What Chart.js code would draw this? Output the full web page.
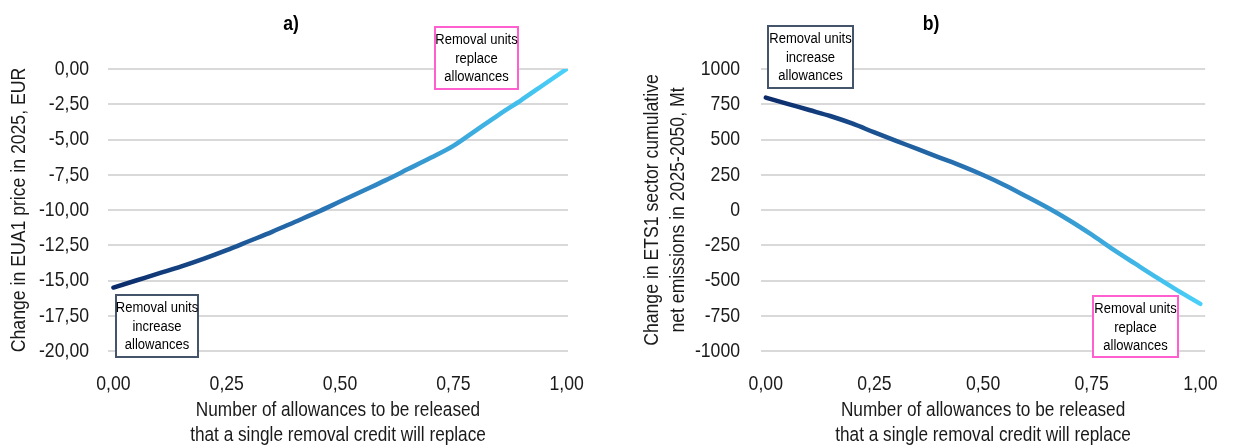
<!DOCTYPE html>
<html>
<head>
<meta charset="utf-8">
<script src="https://cdn.jsdelivr.net/npm/chart.js@4.4.1/dist/chart.umd.min.js"></script>
<style>
  html, body { margin: 0; padding: 0; background: #ffffff; }
  #wrap { position: relative; width: 1234px; height: 448px; overflow: hidden; }
  canvas { position: absolute; top: 0; }
</style>
</head>
<body>
<div id="wrap">
  <canvas id="panelA" width="617" height="448" style="left:0;width:617px;height:448px"></canvas>
  <canvas id="panelB" width="617" height="448" style="left:617px;width:617px;height:448px"></canvas>
</div>
<script>
// Share of allowances released per removal credit
const shares = [0, 0.05, 0.10, 0.15, 0.20, 0.25, 0.30, 0.35, 0.40, 0.45, 0.50,
                0.55, 0.60, 0.65, 0.70, 0.75, 0.80, 0.85, 0.90, 0.95, 1.00];

// a) change in EUA1 price in 2025, EUR
const priceChange = [-15.5, -15.0, -14.5, -14.0, -13.45, -12.85, -12.2, -11.55, -10.85, -10.15, -9.4,
                     -8.65, -7.9, -7.1, -6.3, -5.45, -4.35, -3.25, -2.2, -1.1, 0];

// b) change in ETS1 cumulative net emissions 2025-2050, Mt
const emissionChange = [797, 753, 709, 665, 612, 550, 490, 432, 372, 313, 248,
                        176, 96, 14, -76, -175, -281, -381, -480, -575, -666];

// Tick positions
const shareTicks = [0, 0.25, 0.5, 0.75, 1];
const priceTicks = [0, -2.5, -5, -7.5, -10, -12.5, -15, -17.5, -20];
const emissionTicks = [1000, 750, 500, 250, 0, -250, -500, -750, -1000];

const xTitle = ['Number of allowances to be released', 'that a single removal credit will replace'];

const FONT = "'Liberation Sans', Arial, sans-serif";
const NARROW = 0.84;          // horizontal squeeze for a condensed type look
const INK = '#1a1a1a';
const GRID = '#d9d9d9';
const NAVY = '#44546a';
const PINK = '#ff5fcf';

const decimalComma = v => v.toFixed(2).replace('.', ',');

// Render all text on a context horizontally condensed around its anchor point
function condenseText(canvas, k) {
  const ctx = canvas.getContext('2d');
  const fill = ctx.fillText.bind(ctx);
  ctx.fillText = function (text, x, y, maxWidth) {
    this.save();
    this.translate(x, y);
    this.scale(k, 1);
    if (maxWidth === undefined) fill(text, 0, 0);
    else fill(text, 0, 0, maxWidth / k);
    this.restore();
  };
}

function lineGradient(context) {
  const chart = context.chart;
  const area = chart.chartArea;
  if (!area) return '#2a78b8';
  const g = chart.ctx.createLinearGradient(area.left, 0, area.right, 0);
  g.addColorStop(0, '#0a2867');
  g.addColorStop(0.5, '#2b79b9');
  g.addColorStop(1, '#4ad2fa');
  return g;
}

// Panel letter and text boxes, placed in canvas pixels
function decorations(letter, letterX, boxes) {
  return {
    id: 'decorations',
    afterDraw(chart) {
      const ctx = chart.ctx;
      ctx.save();
      ctx.fillStyle = '#000';
      ctx.font = 'bold 21px ' + FONT;
      ctx.textAlign = 'center';
      ctx.textBaseline = 'middle';
      ctx.fillText(letter, letterX, 24);

      boxes.forEach(b => {
        ctx.fillStyle = '#ffffff';
        ctx.fillRect(b.x, b.y, b.w, b.h);
        ctx.lineWidth = 2;
        ctx.strokeStyle = b.color;
        ctx.strokeRect(b.x + 1, b.y + 1, b.w - 2, b.h - 2);
        ctx.fillStyle = '#000';
        ctx.font = '15.5px ' + FONT;
        b.lines.forEach((t, i) => {
          ctx.fillText(t, b.x + b.w / 2, b.y + 14 + i * 18.5);
        });
      });
      ctx.restore();
    }
  };
}

function makePanel(id, p) {
  const canvas = document.getElementById(id);
  condenseText(canvas, NARROW);
  const points = shares.map((s, i) => ({ x: s, y: p.values[i] }));
  return new Chart(canvas, {
    type: 'line',
    data: {
      datasets: [{
        data: points,
        borderColor: lineGradient,
        borderWidth: 4.5,
        borderCapStyle: 'round',
        borderJoinStyle: 'round',
        pointRadius: 0,
        cubicInterpolationMode: 'monotone',
        fill: false
      }]
    },
    options: {
      responsive: false,
      animation: false,
      devicePixelRatio: 1,
      layout: { padding: { left: 0, top: 69, right: p.padRight, bottom: 0 } },
      plugins: { legend: { display: false }, tooltip: { enabled: false } },
      scales: {
        x: {
          type: 'linear',
          min: p.xMin,
          max: p.xMax,
          afterBuildTicks: s => { s.ticks = shareTicks.map(v => ({ value: v })); },
          afterFit: s => { s.height = 97; },
          grid: { display: false },
          border: { display: false },
          ticks: {
            autoSkip: false, maxRotation: 0, padding: 13,
            color: INK, font: { family: FONT, size: 21 },
            callback: v => decimalComma(v)
          },
          title: {
            display: true, text: xTitle, color: INK,
            font: { family: FONT, size: 20.5, lineHeight: 1.22 },
            padding: { top: 0, bottom: 0 }
          }
        },
        y: {
          min: p.yMin,
          max: p.yMax,
          afterBuildTicks: s => { s.ticks = p.yTicks.map(v => ({ value: v })); },
          afterFit: s => { s.width = p.yWidth; },
          grid: { color: GRID, lineWidth: 2, drawTicks: false },
          border: { display: false },
          ticks: {
            padding: p.tickPad, color: INK,
            font: { family: FONT, size: 21 },
            callback: p.yFormat
          },
          title: {
            display: true, text: p.yTitle, color: INK,
            font: { family: FONT, size: 21, lineHeight: 1.25 },
            padding: { top: p.titlePad, bottom: 0 }
          }
        }
      }
    },
    plugins: [decorations(p.letter, p.letterX, p.boxes)]
  });
}

makePanel('panelA', {
  values: priceChange,
  xMin: -0.012, xMax: 1.003,
  yMin: -20, yMax: 0, yTicks: priceTicks,
  yFormat: v => decimalComma(v),
  yWidth: 108, tickPad: 19, titlePad: 6, padRight: 49,
  yTitle: 'Change in EUA1 price in 2025, EUR',
  letter: 'a)', letterX: 291,
  boxes: [
    { x: 434, y: 26, w: 85, h: 64, color: PINK, lines: ['Removal units', 'replace', 'allowances'] },
    { x: 115, y: 294, w: 84, h: 64, color: NAVY, lines: ['Removal units', 'increase', 'allowances'] }
  ]
});

makePanel('panelB', {
  values: emissionChange,
  xMin: -0.011, xMax: 1.011,
  yMin: -1000, yMax: 1000, yTicks: emissionTicks,
  yFormat: v => String(v),
  yWidth: 144, tickPad: 21, titlePad: 22, padRight: 18,
  yTitle: ['Change in ETS1 sector cumulative', 'net emissions in 2025-2050, Mt'],
  letter: 'b)', letterX: 314,
  boxes: [
    { x: 150, y: 25, w: 87, h: 64, color: NAVY, lines: ['Removal units', 'increase', 'allowances'] },
    { x: 475, y: 295, w: 87, h: 63, color: PINK, lines: ['Removal units', 'replace', 'allowances'] }
  ]
});
</script>
</body>
</html>
